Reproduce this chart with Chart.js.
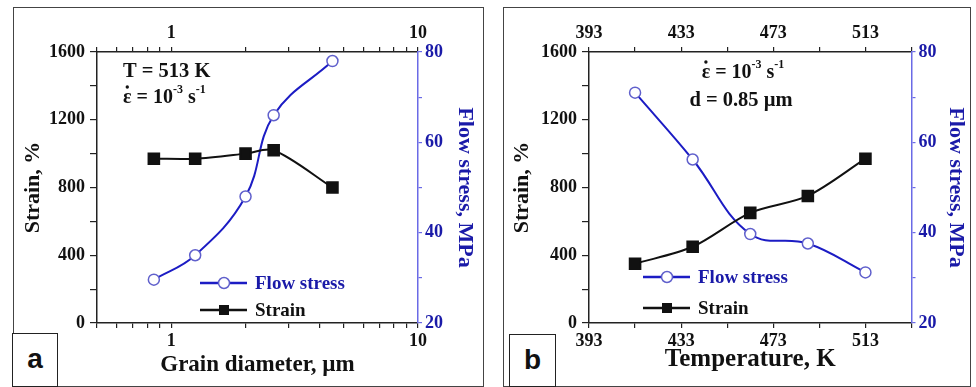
<!DOCTYPE html>
<html>
<head>
<meta charset="utf-8">
<script src="https://cdn.jsdelivr.net/npm/chart.js@4/dist/chart.umd.min.js"></script>
<style>
  body { margin: 0; background: #fff; width: 976px; height: 387px; overflow: hidden; position: relative; }
  .frame { position: absolute; border: 1.5px solid #444; box-sizing: border-box; }
  .tag { position: absolute; border: 1.5px solid #222; box-sizing: border-box; background: #fff;
         font: bold 28px 'Liberation Sans', Arial, sans-serif; color: #111; text-align: center; line-height: 50px; }
  canvas { position: absolute; }
</style>
</head>
<body>
<div class="frame" style="left:13px;top:7px;width:471px;height:380px;"></div>
<div class="frame" style="left:503px;top:7px;width:468px;height:380px;"></div>
<canvas id="chartA" width="470" height="379" style="left:13px;top:7px;"></canvas>
<canvas id="chartB" width="467" height="379" style="left:503px;top:7px;"></canvas>
<div class="tag" style="left:12px;top:333px;width:46px;height:54px;">a</div>
<div class="tag" style="left:509px;top:334px;width:47px;height:53px;">b</div>
<script>
// values
let grainSize = [0.85, 1.25, 2.0, 2.6, 4.5];
let strainA = [970, 970, 1000, 1020, 800];
let flowA = [29.6, 35, 48, 66, 78];

let temps = [413, 438, 463, 488, 513];
let strainB = [350, 450, 650, 750, 970];
let flowB = [71, 56.2, 39.7, 37.6, 31.2];

// axis ticks and labels
let logTicks = [0.5, 0.6, 0.7, 0.8, 0.9, 1, 2, 3, 4, 5, 6, 7, 8, 9, 10];
let logLabels = [1, 10];
let tempTicks = [393, 413, 433, 453, 473, 493, 513, 533];
let tempLabels = [393, 433, 473, 513];
let strainTicks = [0, 200, 400, 600, 800, 1000, 1200, 1400, 1600];
let strainLabels = [0, 400, 800, 1200, 1600];
let flowTicks = [20, 30, 40, 50, 60, 70, 80];
let flowLabels = [20, 40, 60, 80];

const serif = "'Liberation Serif', 'Times New Roman', serif";
const blue = '#1c1cc4';
const blueText = '#1a1aa8';
const blueAxis = '#6a6ae6';
const dark = '#222';

function pts(xs, ys) {
    return xs.map((x, i) => ({ x: x, y: ys[i] }));
}

function setTicks(list) {
    return scale => { scale.ticks = list.map(v => ({ value: v })); };
}

function fixSize(size) {
    return scale => {
        if (scale.isHorizontal()) scale.height = size;
        else scale.width = size;
    };
}

function xScale(type, pos, min, max, ticks, labels, box, title, titlePad, titleSize) {
    return {
        type: type, position: pos, min: min, max: max,
        afterBuildTicks: setTicks(ticks),
        afterFit: fixSize(box),
        ticks: {
            autoSkip: false, maxRotation: 0, padding: 3, color: '#111',
            font: { family: serif, size: 18, weight: 'bold' },
            callback: v => labels.includes(v) ? String(v) : ''
        },
        grid: { drawOnChartArea: false, tickLength: 5, color: dark, lineWidth: 1.2 },
        border: { color: dark, width: 1.5 },
        title: {
            display: !!title, text: title, color: '#111',
            font: { family: serif, size: titleSize || 22, weight: 'bold' },
            padding: { top: 0, bottom: titlePad }
        }
    };
}

function yScales(leftBox, rightBox, leftPad, rightPad) {
    return {
        y: {
            position: 'left', min: 0, max: 1600,
            afterBuildTicks: setTicks(strainTicks),
            afterFit: fixSize(leftBox),
            ticks: {
                padding: 5, color: '#111',
                font: { family: serif, size: 18, weight: 'bold' },
                callback: v => strainLabels.includes(v) ? String(v) : ''
            },
            grid: { drawOnChartArea: false, tickLength: 7, color: dark, lineWidth: 1.2 },
            border: { color: dark, width: 1.5 },
            title: {
                display: true, text: 'Strain, %', color: '#111',
                font: { family: serif, size: 22, weight: 'bold' },
                padding: { top: leftPad, bottom: 0 }
            }
        },
        y2: {
            position: 'right', min: 20, max: 80,
            afterBuildTicks: setTicks(flowTicks),
            afterFit: fixSize(rightBox),
            ticks: {
                padding: 3, color: blueText,
                font: { family: serif, size: 18, weight: 'bold' },
                callback: v => flowLabels.includes(v) ? String(v) : ''
            },
            grid: { drawOnChartArea: false, tickLength: 4, color: blueAxis, lineWidth: 1.2 },
            border: { color: blueAxis, width: 1.5 },
            title: {
                display: true, text: 'Flow stress, MPa', color: blueText,
                font: { family: serif, size: 22, weight: 'bold' },
                padding: { top: rightPad, bottom: 0 }
            }
        }
    };
}

function datasets(xs, strain, flow) {
    return [
        {
            label: 'Strain', data: pts(xs, strain), yAxisID: 'y', order: 0,
            borderColor: '#111', borderWidth: 2, tension: 0.3,
            pointStyle: 'rect', pointRadius: 7.5, pointBackgroundColor: '#111', pointBorderColor: '#111'
        },
        {
            label: 'Flow stress', data: pts(xs, flow), yAxisID: 'y2', order: 1,
            borderColor: blue, borderWidth: 2, tension: 0.4,
            pointStyle: 'circle', pointRadius: 5.5, pointBorderWidth: 1.5,
            pointBackgroundColor: '#fff', pointBorderColor: '#6060cc'
        }
    ];
}

// text with superscripts: parts = [text, size, raise, dot]
function richText(ctx, parts, x, y, align, color) {
    let total = 0;
    parts.forEach(p => {
        ctx.font = 'bold ' + p[1] + 'px ' + serif;
        total += ctx.measureText(p[0]).width;
    });
    let cx = align === 'center' ? x - total / 2 : x;
    ctx.fillStyle = color;
    ctx.textBaseline = 'middle';
    ctx.textAlign = 'left';
    parts.forEach(p => {
        ctx.font = 'bold ' + p[1] + 'px ' + serif;
        let w = ctx.measureText(p[0]).width;
        ctx.fillText(p[0], cx, y - (p[2] || 0));
        if (p[3]) {
            // dot over epsilon
            ctx.beginPath();
            ctx.arc(cx + w / 2, y - 11, 1.7, 0, Math.PI * 2);
            ctx.fill();
        }
        cx += w;
    });
}

function rateParts() {
    return [['ε', 20, 0, true], [' = 10', 20], ['-3', 12, 8], [' s', 20], ['-1', 12, 8]];
}

function legendRow(ctx, x, y, lineColor, marker, label, textColor) {
    ctx.save();
    ctx.strokeStyle = lineColor;
    ctx.lineWidth = 2.5;
    ctx.beginPath();
    ctx.moveTo(x, y);
    ctx.lineTo(x + 47, y);
    ctx.stroke();
    if (marker === 'circle') {
        ctx.fillStyle = '#fff';
        ctx.strokeStyle = '#6060cc';
        ctx.lineWidth = 1.5;
        ctx.beginPath();
        ctx.arc(x + 24, y, 5.5, 0, Math.PI * 2);
        ctx.fill();
        ctx.stroke();
    } else {
        ctx.fillStyle = '#111';
        ctx.fillRect(x + 24 - 5, y - 5, 10, 10);
    }
    ctx.fillStyle = textColor;
    ctx.font = 'bold 19px ' + serif;
    ctx.textBaseline = 'middle';
    ctx.fillText(label, x + 55, y + 1);
    ctx.restore();
}

let notesA = {
    id: 'notesA',
    afterDraw(chart) {
        let ctx = chart.ctx;
        ctx.save();
        richText(ctx, [['T = 513 K', 20.5]], 110, 65, 'left', '#111');
        richText(ctx, rateParts(), 110, 91, 'left', '#111');
        legendRow(ctx, 187, 276, blue, 'circle', 'Flow stress', blueText);
        legendRow(ctx, 187, 303, '#111', 'rect', 'Strain', '#111');
        ctx.restore();
    }
};

let notesB = {
    id: 'notesB',
    afterDraw(chart) {
        let ctx = chart.ctx;
        ctx.save();
        richText(ctx, rateParts(), 240, 66, 'center', '#111');
        richText(ctx, [['d = 0.85 µm', 20.5]], 238, 94, 'center', '#111');
        legendRow(ctx, 140, 270, blue, 'circle', 'Flow stress', blueText);
        legendRow(ctx, 140, 301, '#111', 'rect', 'Strain', '#111');
        ctx.restore();
    }
};

function baseOptions(scales) {
    return {
        responsive: false, animation: false, devicePixelRatio: 1,
        layout: { padding: 0 },
        plugins: { legend: { display: false }, tooltip: { enabled: false } },
        scales: scales
    };
}

let scalesA = Object.assign({
    x: xScale('logarithmic', 'bottom', 0.5, 10, logTicks, logLabels, 63, 'Grain diameter, µm', 7, 23),
    x2: xScale('logarithmic', 'top', 0.5, 10, logTicks, logLabels, 45, '', 0)
}, yScales(84, 65, 7, 5));

new Chart(document.getElementById('chartA').getContext('2d'), {
    type: 'line',
    data: { datasets: datasets(grainSize, strainA, flowA) },
    options: baseOptions(scalesA),
    plugins: [notesA]
});

let scalesB = Object.assign({
    x: xScale('linear', 'bottom', 393, 533, tempTicks, tempLabels, 63, 'Temperature, K', 11, 25),
    x2: xScale('linear', 'top', 393, 533, tempTicks, tempLabels, 45, '', 0)
}, yScales(86, 58.5, 6.5, 1));

new Chart(document.getElementById('chartB').getContext('2d'), {
    type: 'line',
    data: { datasets: datasets(temps, strainB, flowB) },
    options: baseOptions(scalesB),
    plugins: [notesB]
});
</script>
</body>
</html>
